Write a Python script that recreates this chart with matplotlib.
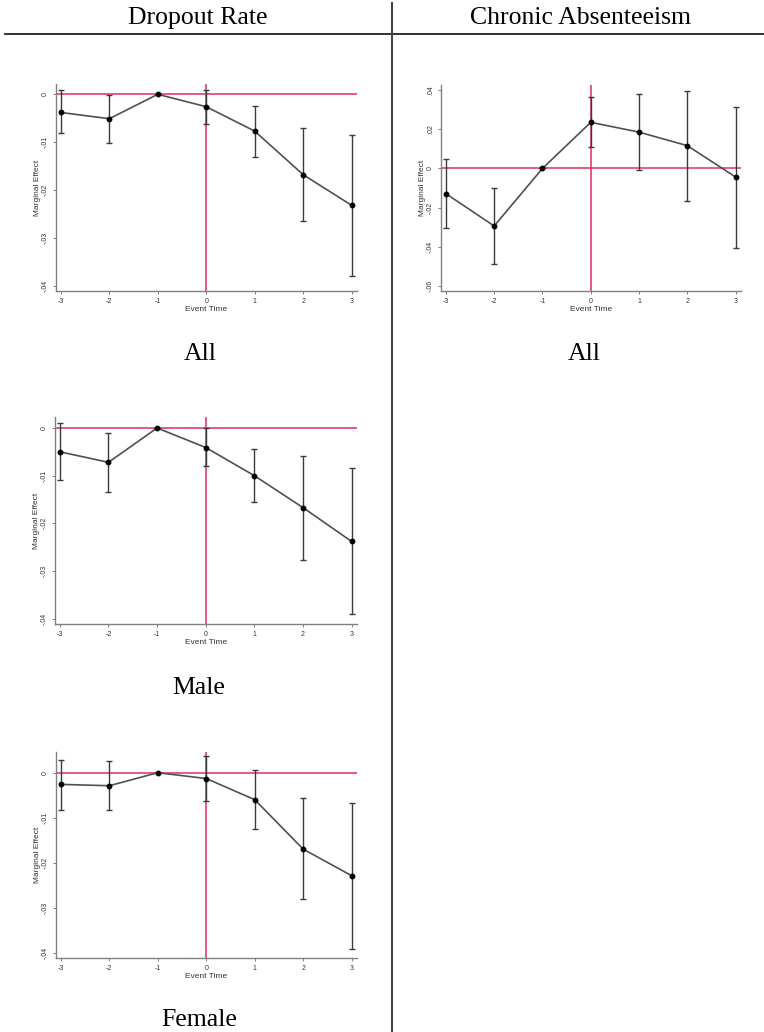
import matplotlib
matplotlib.use("Agg")
import matplotlib.pyplot as plt

event_time = [-3, -2, -1, 0, 1, 2, 3]

# dropout rate, all
drop_all = [-0.0038, -0.0051, 0.0, -0.0026, -0.0077, -0.0168, -0.0232]
drop_all_lo = [-0.0081, -0.0101, 0.0, -0.0063, -0.0130, -0.0264, -0.0379]
drop_all_hi = [0.0008, -0.0001, 0.0, 0.0010, -0.0024, -0.0070, -0.0085]

# dropout rate, male
drop_male = [-0.0050, -0.0072, 0.0, -0.0041, -0.0100, -0.0167, -0.0238]
drop_male_lo = [-0.0110, -0.0134, 0.0, -0.0080, -0.0156, -0.0276, -0.0391]
drop_male_hi = [0.0011, -0.0010, 0.0, 0.0000, -0.0044, -0.0058, -0.0084]

# dropout rate, female
drop_female = [-0.0026, -0.0029, 0.0, -0.0013, -0.0060, -0.0170, -0.0229]
drop_female_lo = [-0.0082, -0.0083, 0.0, -0.0063, -0.0125, -0.0281, -0.0393]
drop_female_hi = [0.0029, 0.0026, 0.0, 0.0036, 0.0006, -0.0057, -0.0067]

# chronic absenteeism, all
chronic_all = [-0.0128, -0.0293, 0.0, 0.0235, 0.0185, 0.0116, -0.0044]
chronic_all_lo = [-0.0303, -0.0488, 0.0, 0.0107, -0.0009, -0.0167, -0.0403]
chronic_all_hi = [0.0046, -0.0099, 0.0, 0.0364, 0.0379, 0.0396, 0.0315]

drop_ticks = [0, -0.01, -0.02, -0.03, -0.04]
drop_ticklabels = ["0", "-.01", "-.02", "-.03", "-.04"]
chronic_ticks = [0.04, 0.02, 0, -0.02, -0.04, -0.06]
chronic_ticklabels = [".04", ".02", "0", "-.02", "-.04", "-.06"]

W, H = 764, 1032
fig = plt.figure(figsize=(W / 100, H / 100), dpi=100)

red = "#dc2f5c"
gray = "#808080"
sans = "Liberation Sans"
serif = "Liberation Serif"


def px_axes(left, right, top, bottom):
    return fig.add_axes([left / W, 1 - bottom / H, (right - left) / W, (bottom - top) / H])


def event_plot(rect, y, lo, hi, ylim, ticks, ticklabels):
    ax = px_axes(*rect)
    ax.axhline(0, color=red, lw=1.1, zorder=1)
    ax.axvline(0, color=red, lw=1.1, zorder=1)
    err = [[v - l for v, l in zip(y, lo)], [h - v for v, h in zip(y, hi)]]
    ax.errorbar(event_time, y, yerr=err, fmt="none", ecolor="#3a3a3a",
                elinewidth=1.0, capsize=2.5, capthick=1.0, zorder=2)
    ax.plot(event_time, y, color="#505050", lw=1.2, marker="o", ms=3.2,
            mfc="black", mec="black", zorder=3)
    ax.set_xlim(-3.10, 3.11)
    ax.set_ylim(*ylim)
    ax.set_xticks(event_time)
    ax.set_xticklabels([str(t) for t in event_time], fontsize=5, family=sans)
    ax.set_yticks(ticks)
    ax.set_yticklabels(ticklabels, fontsize=5, family=sans, rotation=90, va="center")
    ax.tick_params(length=2.5, width=0.7, color=gray, labelcolor="#333333", pad=2.5)
    for s in ["top", "right"]:
        ax.spines[s].set_visible(False)
    for s in ["left", "bottom"]:
        ax.spines[s].set_color(gray)
        ax.spines[s].set_linewidth(1.0)
    ax.set_xlabel("Event Time", fontsize=6, family=sans, labelpad=0.5, color="#333333")
    ax.set_ylabel("Marginal Effect", fontsize=6, family=sans, labelpad=1, color="#333333")
    return ax


event_plot((56, 357, 84, 291), drop_all, drop_all_lo, drop_all_hi,
           (-0.0411, 0.00215), drop_ticks, drop_ticklabels)
event_plot((441, 741, 85, 291), chronic_all, chronic_all_lo, chronic_all_hi,
           (-0.0624, 0.0425), chronic_ticks, chronic_ticklabels)
event_plot((55, 357, 417, 624), drop_male, drop_male_lo, drop_male_hi,
           (-0.0411, 0.0023), drop_ticks, drop_ticklabels)
event_plot((56, 357, 752, 958), drop_female, drop_female_lo, drop_female_hi,
           (-0.0412, 0.0046), drop_ticks, drop_ticklabels)

# table frame
fig.add_artist(plt.Line2D([5 / W, 1], [1 - 34 / H, 1 - 34 / H], color="#222222", lw=1.3))
fig.add_artist(plt.Line2D([392 / W, 392 / W], [1 - 3 / H, 0], color="#444444", lw=1.5))

fig.text(198 / W, 1 - 18 / H, "Dropout Rate", ha="center", va="center", fontsize=18.5, family=serif)
fig.text(580 / W, 1 - 18 / H, "Chronic Absenteeism", ha="center", va="center", fontsize=18.5, family=serif)
fig.text(200 / W, 1 - 354 / H, "All", ha="center", va="center", fontsize=18.5, family=serif)
fig.text(584 / W, 1 - 354 / H, "All", ha="center", va="center", fontsize=18.5, family=serif)
fig.text(199 / W, 1 - 688 / H, "Male", ha="center", va="center", fontsize=18.5, family=serif)
fig.text(199 / W, 1 - 1020 / H, "Female", ha="center", va="center", fontsize=18.5, family=serif)

fig.savefig("out.png", dpi=100)
